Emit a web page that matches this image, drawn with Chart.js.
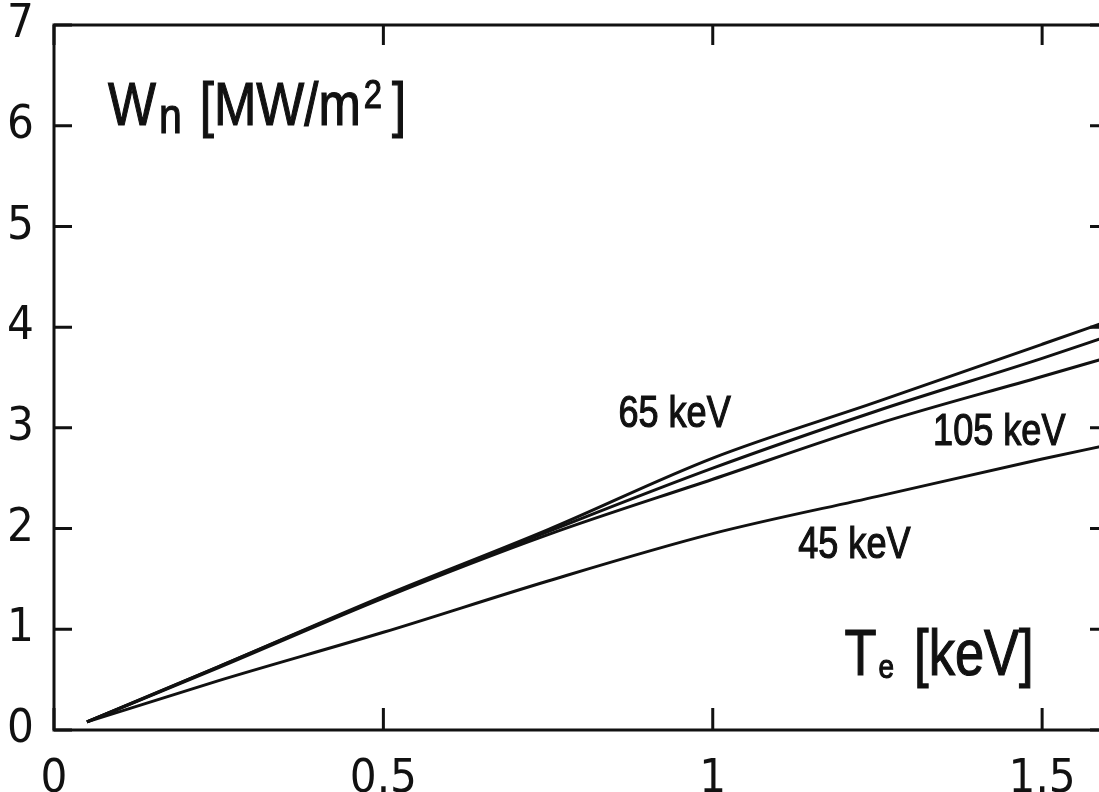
<!DOCTYPE html>
<html>
<head>
<meta charset="utf-8">
<title>Wn vs Te</title>
<script src="https://cdn.jsdelivr.net/npm/chart.js@4.4.1/dist/chart.umd.min.js"></script>
<style>
  html, body { margin: 0; padding: 0; background: #fff; overflow: hidden; }
  #wrap { position: absolute; left: 0; top: 0; width: 1112px; height: 792px; }
</style>
</head>
<body>
<div id="wrap"><canvas id="chart" width="1112" height="792"></canvas></div>
<script>
// Te [keV]
const temps = [0.05, 0.25, 0.5, 0.75, 1.0, 1.25, 1.5, 1.6];
// Wn [MW/m2] for each beam energy
const w65  = [0.08, 0.63, 1.33, 1.99, 2.70, 3.26, 3.83, 4.06];
const wMid = [0.08, 0.63, 1.32, 1.97, 2.60, 3.17, 3.69, 3.91];
const w105 = [0.08, 0.62, 1.31, 1.94, 2.49, 3.04, 3.51, 3.70];
const w45  = [0.08, 0.49, 0.97, 1.48, 1.95, 2.32, 2.69, 2.83];

const xTicks = [0, 0.5, 1, 1.5];
const xTickLabels = ['0', '0.5', '1', '1.5'];
const yTicks = [0, 1, 2, 3, 4, 5, 6, 7];

const ink = '#111';
const tickFont = { family: '"DejaVu Sans Condensed", "DejaVu Sans", sans-serif', size: 47 };
const textFamily = '"Liberation Sans", Arial, sans-serif';

function pts(ys) {
  return temps.map((t, i) => ({ x: t, y: ys[i] }));
}

function line(label, ys) {
  return {
    label: label,
    data: pts(ys),
    borderColor: ink,
    borderWidth: 3,
    pointRadius: 0,
    fill: false,
    cubicInterpolationMode: 'monotone'
  };
}

// squeezed text, like the narrow lettering of the scan
function squeezed(ctx, text, x, y, size, align) {
  const sx = 0.82;
  ctx.save();
  ctx.font = size + 'px ' + textFamily;
  const w = ctx.measureText(text).width * sx;
  let left = x;
  if (align === 'center') left = x - w / 2;
  ctx.translate(left, y);
  ctx.scale(sx, 1);
  ctx.textAlign = 'left';
  ctx.textBaseline = 'alphabetic';
  ctx.fillStyle = ink;
  ctx.strokeStyle = ink;
  ctx.lineWidth = 1.2;
  ctx.fillText(text, 0, 0);
  ctx.strokeText(text, 0, 0);
  ctx.restore();
  return left + w;
}

const framePlugin = {
  id: 'frame',
  afterDraw(chart) {
    const { ctx, chartArea: a, scales } = chart;
    ctx.save();
    ctx.strokeStyle = ink;
    ctx.lineWidth = 3;
    ctx.strokeRect(a.left, a.top, a.right - a.left, a.bottom - a.top);
    ctx.beginPath();
    xTicks.forEach(v => {
      const px = scales.x.getPixelForValue(v);
      ctx.moveTo(px, a.bottom); ctx.lineTo(px, a.bottom - 22);
      ctx.moveTo(px, a.top); ctx.lineTo(px, a.top + 20);
    });
    yTicks.forEach(v => {
      const py = scales.y.getPixelForValue(v);
      ctx.moveTo(a.left, py); ctx.lineTo(a.left + 18, py);
      ctx.moveTo(a.right, py); ctx.lineTo(a.right - 18, py);
    });
    ctx.stroke();
    ctx.restore();

    const X = v => scales.x.getPixelForValue(v);
    const Y = v => scales.y.getPixelForValue(v);

    // curve labels
    squeezed(ctx, '65 keV', X(0.942), Y(3.01), 44, 'center');
    squeezed(ctx, '105 keV', X(1.435), Y(2.83), 44, 'center');
    squeezed(ctx, '45 keV', X(1.215), Y(1.71), 44, 'center');

    // y axis title: Wn [MW/m2]
    let x = X(0.082);
    const base = Y(6.01);
    x = squeezed(ctx, 'W', x, base, 62);
    x = squeezed(ctx, 'n', x + 3, base + 8, 50);
    x = squeezed(ctx, '[MW/m', x + 18, base, 62);
    x = squeezed(ctx, '2', x + 3, base - 17, 40);
    squeezed(ctx, ']', x + 10, base, 62);

    // x axis title: Te [keV]
    let tx = X(1.2);
    const tb = Y(0.546);
    tx = squeezed(ctx, 'T', tx, tb, 64);
    tx = squeezed(ctx, 'e', tx + 2, tb + 3, 34);
    squeezed(ctx, '[keV]', tx + 20, tb, 64);
  }
};

new Chart(document.getElementById('chart'), {
  type: 'line',
  data: {
    datasets: [
      line('65 keV', w65),
      line('', wMid),
      line('105 keV', w105),
      line('45 keV', w45)
    ]
  },
  options: {
    responsive: false,
    animation: false,
    devicePixelRatio: 1,
    layout: { padding: { left: 0, top: 25, right: 4, bottom: 0 } },
    plugins: { legend: { display: false }, tooltip: { enabled: false } },
    scales: {
      x: {
        type: 'linear',
        min: 0,
        max: 1.6,
        afterBuildTicks: s => { s.ticks = xTicks.map(v => ({ value: v })); },
        afterFit: s => { s.height = 62; s.paddingLeft = 0; s.paddingRight = 0; },
        grid: { display: false, drawTicks: false },
        border: { display: false },
        ticks: {
          color: ink,
          font: tickFont,
          padding: 22,
          maxRotation: 0,
          callback: (v, i) => xTickLabels[i]
        }
      },
      y: {
        min: 0,
        max: 7,
        afterBuildTicks: s => { s.ticks = yTicks.map(v => ({ value: v })); },
        afterFit: s => { s.width = 54; s.paddingTop = 0; s.paddingBottom = 0; },
        grid: { display: false, drawTicks: false },
        border: { display: false },
        ticks: {
          color: ink,
          font: tickFont,
          padding: 20,
          callback: v => String(v)
        }
      }
    }
  },
  plugins: [framePlugin]
});
</script>
</body>
</html>
